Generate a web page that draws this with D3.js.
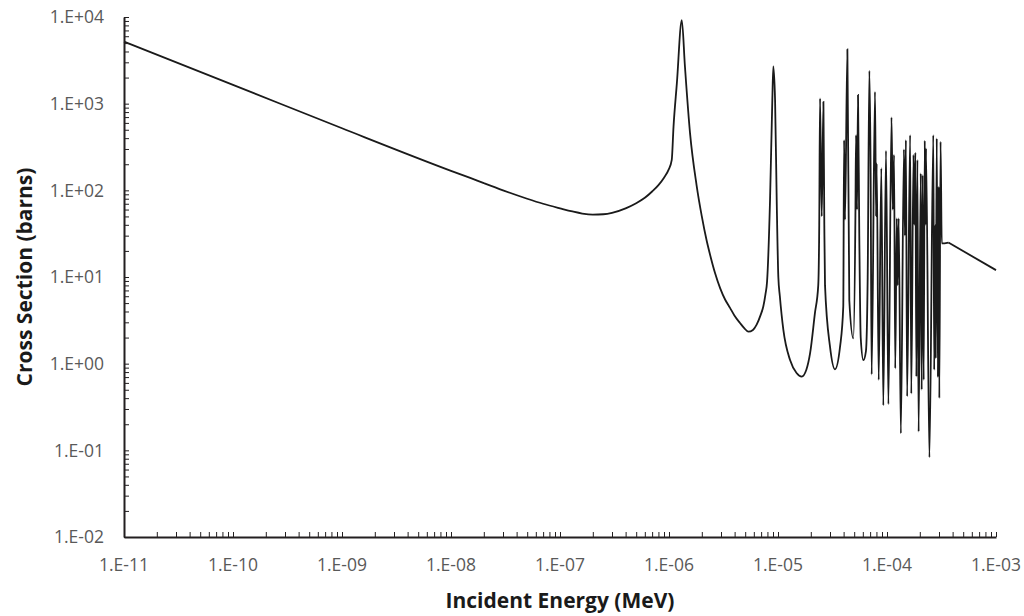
<!DOCTYPE html>
<html>
<head>
<meta charset="utf-8">
<script src="https://cdn.jsdelivr.net/npm/d3@7"></script>
<style>
body { margin: 0; background: #fff; }
svg { display: block; font-family: "Open Sans", "Noto Sans", sans-serif; }
.tick-label { fill: #595959; font-size: 17.5px; }
.axis-title { fill: #1a1a1a; font-size: 21px; font-weight: bold; }
</style>
</head>
<body>
<svg id="chart" width="1024" height="616"></svg>
<script>
// incident energy (MeV) and cross section (barns)
var energy = [
	1e-11, 1e-10, 1e-9, 1e-8, 1.5e-8, 2e-8, 3e-8, 5e-8, 7e-8, 1e-7,
	1.3e-7, 1.6e-7, 2e-7, 2.5e-7, 3e-7, 4e-7, 5e-7, 6e-7, 7e-7, 8e-7,
	9e-7, 9.9e-7, 1.06e-6, 1.10e-6, 1.18e-6, 1.31e-6, 1.40e-6, 1.56e-6, 1.79e-6, 2.0e-6,
	2.22e-6, 2.4e-6, 2.64e-6, 2.95e-6, 3.27e-6, 3.63e-6, 3.98e-6, 4.48e-6, 4.90e-6, 5.35e-6,
	5.89e-6, 6.37e-6, 6.92e-6, 7.33e-6, 7.67e-6, 7.94e-6, 8.45e-6, 8.87e-6, 9.06e-6, 9.40e-6,
	9.73e-6, 1.007e-5, 1.04e-5, 1.12e-5, 1.29e-5, 1.48e-5, 1.65e-5, 1.82e-5, 1.97e-5, 2.18e-5,
	2.34e-5, 2.39e-5, 2.43e-5, 2.52e-5, 2.61e-5, 2.66e-5, 2.70e-5, 3.00e-5, 3.33e-5, 3.71e-5,
	3.97e-5, 4.04e-5, 4.12e-5, 4.33e-5, 4.51e-5, 4.91e-5, 5.13e-5, 5.20e-5, 5.31e-5, 5.42e-5,
	5.57e-5, 5.74e-5, 6.07e-5, 6.41e-5, 6.65e-5, 6.89e-5, 7.08e-5, 7.23e-5, 7.76e-5, 7.94e-5,
	8.04e-5, 8.39e-5, 8.87e-5, 9.25e-5, 9.79e-5, 1.03e-4, 1.10e-4, 1.13e-4, 1.16e-4, 1.19e-4,
	1.23e-4, 1.25e-4, 1.28e-4, 1.34e-4, 1.43e-4, 1.46e-4, 1.49e-4, 1.53e-4, 1.63e-4, 1.67e-4,
	1.75e-4, 1.78e-4, 1.82e-4, 1.86e-4, 1.90e-4, 1.95e-4, 2.04e-4, 2.08e-4, 2.12e-4, 2.17e-4,
	2.22e-4, 2.25e-4, 2.28e-4, 2.45e-4, 2.66e-4, 2.71e-4, 2.77e-4, 2.80e-4, 2.86e-4, 2.93e-4,
	2.98e-4, 3.02e-4, 3.10e-4, 3.18e-4, 3.66e-4, 1e-3
];
var sigma = [
	5200, 1650, 520, 168, 139, 121, 100, 80, 70, 62,
	57, 54, 52.5, 53, 55, 62, 71, 82, 97, 115,
	140, 172, 225, 540, 1700, 9200, 2700, 455, 115, 50,
	26, 17.4, 11.2, 7.4, 5.5, 4.4, 3.6, 2.95, 2.57, 2.34,
	2.45, 2.82, 3.63, 4.57, 6.3, 8.9, 77, 1100, 2700, 1100,
	77, 10, 6, 2.45, 1.10, 0.78, 0.71, 0.85, 1.32, 3.8,
	8, 40, 1150, 50, 1050, 40, 8, 1.57, 0.86, 1.57,
	4.55, 380, 46, 4240, 5.4, 1.96, 50, 434, 60, 1260,
	30, 2, 1.10, 1.4, 10, 2400, 144, 0.75, 1370, 50,
	204, 0.65, 180, 0.33, 287, 0.34, 695, 60, 256, 0.88,
	47.5, 8, 47.5, 0.157, 297, 30, 380, 0.42, 434, 0.45,
	256, 40, 272, 0.71, 224, 0.164, 157, 0.50, 150, 0.65,
	374, 40, 305, 0.083, 434, 0.85, 40, 1.15, 398, 0.70,
	110, 0.40, 364, 24.4, 25, 12
];

var xTicks = [1e-11, 1e-10, 1e-9, 1e-8, 1e-7, 1e-6, 1e-5, 1e-4, 1e-3];
var xTickLabels = ["1.E-11", "1.E-10", "1.E-09", "1.E-08", "1.E-07", "1.E-06", "1.E-05", "1.E-04", "1.E-03"];
var yTicks = [1e-2, 1e-1, 1, 10, 100, 1e3, 1e4];
var yTickLabels = ["1.E-02", "1.E-01", "1.E+00", "1.E+01", "1.E+02", "1.E+03", "1.E+04"];

var margin = {left: 124, right: 28, top: 17, bottom: 79};
var width = 1024 - margin.left - margin.right;
var height = 616 - margin.top - margin.bottom;
var axisColor = "#231f20";

var svg = d3.select("#chart");
var g = svg.append("g")
	.attr("transform", "translate(" + margin.left + "," + margin.top + ")");

var x = d3.scaleLog().domain([1e-11, 1e-3]).range([0, width]);
var y = d3.scaleLog().domain([1e-2, 1e4]).range([height, 0]);

// the curve: smoothed through the resonances, straight for the last stretch
var points = d3.zip(energy, sigma);
var tail = points.length - 2;
var smooth = d3.line()
	.x(function(d) { return x(d[0]); })
	.y(function(d) { return y(d[1]); })
	.curve(d3.curveMonotoneX);
var straight = d3.line()
	.x(function(d) { return x(d[0]); })
	.y(function(d) { return y(d[1]); });

g.append("path")
	.datum(points.slice(0, tail + 1))
	.attr("fill", "none")
	.attr("stroke", "#1a1a1a")
	.attr("stroke-width", 1.8)
	.attr("d", smooth);
g.append("path")
	.datum(points.slice(tail))
	.attr("fill", "none")
	.attr("stroke", "#1a1a1a")
	.attr("stroke-width", 1.8)
	.attr("d", straight);

// tick marks, pointing inside, on every 1..9 of each decade
var xAxis = g.append("g")
	.attr("transform", "translate(0," + height + ")")
	.call(d3.axisBottom(x).tickValues(x.ticks()).tickSizeInner(-5).tickSizeOuter(0).tickFormat(""));
var yAxis = g.append("g")
	.call(d3.axisLeft(y).tickValues(y.ticks()).tickSizeInner(-5).tickSizeOuter(0).tickFormat(""));

[xAxis, yAxis].forEach(function(a) {
	a.select(".domain").attr("stroke", axisColor).attr("stroke-width", 2);
	a.selectAll(".tick line").attr("stroke", axisColor).attr("stroke-width", 1);
});

// tick labels
g.selectAll(".xlab").data(xTicks).enter()
	.append("text")
	.attr("class", "tick-label")
	.attr("x", function(d) { return x(d); })
	.attr("y", height + 34)
	.attr("text-anchor", "middle")
	.text(function(d, i) { return xTickLabels[i]; });

g.selectAll(".ylab").data(yTicks).enter()
	.append("text")
	.attr("class", "tick-label")
	.attr("x", -20)
	.attr("y", function(d) { return y(d); })
	.attr("dy", "0.36em")
	.attr("text-anchor", "end")
	.text(function(d, i) { return yTickLabels[i]; });

// axis titles
svg.append("text")
	.attr("class", "axis-title")
	.attr("x", margin.left + width / 2)
	.attr("y", 608)
	.attr("text-anchor", "middle")
	.text("Incident Energy (MeV)");

svg.append("text")
	.attr("class", "axis-title")
	.attr("transform", "translate(24," + (margin.top + height / 2) + ") rotate(-90)")
	.attr("dy", "0.36em")
	.attr("text-anchor", "middle")
	.text("Cross Section (barns)");
</script>
</body>
</html>
